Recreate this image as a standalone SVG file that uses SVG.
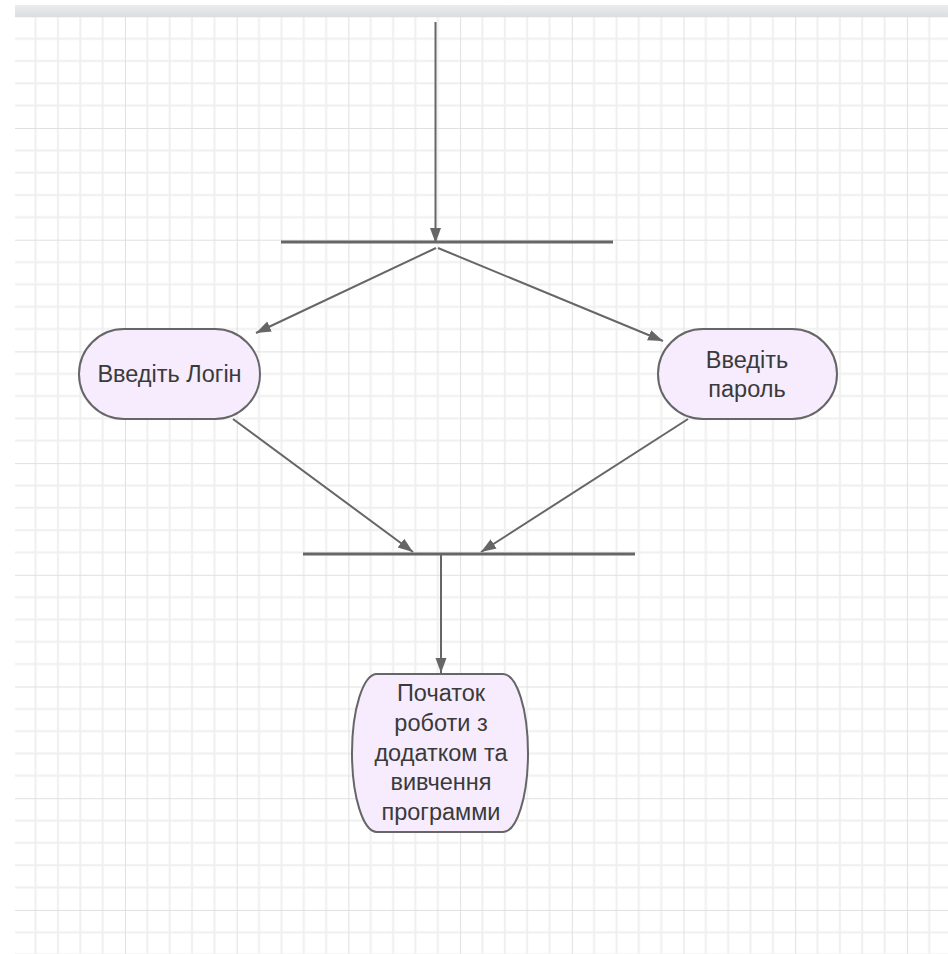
<svg xmlns="http://www.w3.org/2000/svg" width="948" height="954" viewBox="0 0 948 954">
<style>
.node{fill:#f6ecfd;stroke:#666;stroke-width:2}
.lbl{font-family:"Liberation Sans",Arial,sans-serif;font-size:23.5px;fill:#3a3a3a;text-anchor:middle}
.edge{stroke:#666;stroke-width:2;fill:none}
.bar{stroke:#666;stroke-width:3}
</style>
<defs>
<pattern id="grid" patternUnits="userSpaceOnUse" x="125" y="128" width="111.7" height="111.7">
<g stroke="#efefef" stroke-width="2">
<line x1="22.34" y1="0" x2="22.34" y2="111.7"/>
<line x1="44.68" y1="0" x2="44.68" y2="111.7"/>
<line x1="67.02" y1="0" x2="67.02" y2="111.7"/>
<line x1="89.36" y1="0" x2="89.36" y2="111.7"/>
<line x1="0" y1="22.34" x2="111.7" y2="22.34"/>
<line x1="0" y1="44.68" x2="111.7" y2="44.68"/>
<line x1="0" y1="67.02" x2="111.7" y2="67.02"/>
<line x1="0" y1="89.36" x2="111.7" y2="89.36"/>
</g>
<g stroke="#e0e0e0" stroke-width="2">
<line x1="0" y1="0" x2="0" y2="111.7"/>
<line x1="0" y1="0" x2="111.7" y2="0"/>
</g>
</pattern>
<linearGradient id="topbar" x1="0" y1="0" x2="0" y2="1">
<stop offset="0" stop-color="#ebecee"/>
<stop offset="1" stop-color="#dcdde0"/>
</linearGradient>
<marker id="arr" markerUnits="userSpaceOnUse" markerWidth="16" markerHeight="12" refX="15" refY="5.5" orient="auto">
<path d="M0,0 L15,5.5 L0,11 Z" fill="#666"/>
</marker>
</defs>
<rect x="0" y="0" width="948" height="954" fill="#fff"/>
<rect x="15" y="17" width="933" height="937" fill="url(#grid)"/>
<rect x="15" y="5" width="933" height="12" fill="url(#topbar)"/>

<g id="connectors">
<line class="edge" x1="435.5" y1="22" x2="435.5" y2="243" marker-end="url(#arr)"/>
<line class="bar" x1="281" y1="242" x2="613" y2="242"/>
<line class="edge" x1="436" y1="248" x2="256" y2="333" marker-end="url(#arr)"/>
<line class="edge" x1="438" y1="248" x2="663" y2="341" marker-end="url(#arr)"/>
<line class="edge" x1="233" y1="419" x2="413" y2="552" marker-end="url(#arr)"/>
<line class="edge" x1="688" y1="419" x2="481" y2="552" marker-end="url(#arr)"/>
<line class="bar" x1="303" y1="554" x2="635" y2="554"/>
<line class="edge" x1="441" y1="554" x2="441" y2="673" marker-end="url(#arr)"/>
</g>

<g id="login">
<rect class="node" x="79" y="329" width="181" height="90" rx="45" ry="45"/>
<text class="lbl" x="169.5" y="382">Введіть Логін</text>
</g>

<g id="password">
<rect class="node" x="658" y="329" width="179" height="90" rx="45" ry="45"/>
<text class="lbl" x="747" y="368">Введіть</text>
<text class="lbl" x="747" y="397">пароль</text>
</g>

<g id="start">
<path class="node" d="M377,674 H503 A25 79 0 0 1 503,832 H377 A25 79 0 0 1 377,674 Z"/>
<text class="lbl" x="441" y="701">Початок</text>
<text class="lbl" x="441" y="731">роботи з</text>
<text class="lbl" x="441" y="761">додатком та</text>
<text class="lbl" x="441" y="790">вивчення</text>
<text class="lbl" x="441" y="820">программи</text>
</g>
</svg>
